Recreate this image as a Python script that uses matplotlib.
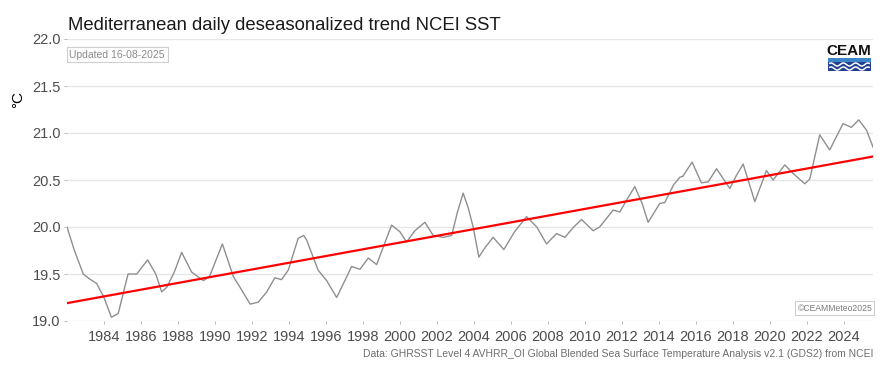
import numpy as np
import matplotlib
matplotlib.use("Agg")
import matplotlib.pyplot as plt
from matplotlib.patches import Rectangle

plt.rcParams['font.family'] = ['Liberation Sans', 'DejaVu Sans']

# deseasonalized SST
years = [1982.0, 1982.4, 1982.88, 1983.2, 1983.6, 1984.0, 1984.4, 1984.77, 1985.3, 1985.77,
         1986.36, 1986.8, 1987.12, 1987.4, 1987.8, 1988.2, 1988.74, 1989.37, 1989.7, 1990.4,
         1991.0, 1991.35, 1991.9, 1992.34, 1992.8, 1993.24, 1993.6, 1993.96, 1994.5, 1994.8,
         1994.96, 1995.58, 1996.04, 1996.58, 1997.0, 1997.39, 1997.84, 1998.29, 1998.74,
         1999.55, 2000.0, 2000.36, 2000.81, 2001.35, 2001.8, 2002.35, 2002.8, 2003.1,
         2003.42, 2003.7, 2003.96, 2004.27, 2004.6, 2005.04, 2005.62, 2006.2, 2006.85,
         2007.4, 2007.93, 2008.47, 2008.92, 2009.4, 2009.82, 2010.45, 2010.8, 2011.53,
         2011.89, 2012.3, 2012.7, 2013.1, 2013.42, 2014.05, 2014.32, 2014.8, 2015.14,
         2015.3, 2015.8, 2016.3, 2016.67, 2017.12, 2017.84, 2018.2, 2018.56, 2019.19,
         2019.82, 2020.18, 2020.81, 2021.26, 2021.89, 2022.16, 2022.7, 2023.24, 2023.96,
         2024.41, 2024.81, 2025.23, 2025.58]
sst = [20.00, 19.75, 19.50, 19.45, 19.40, 19.25, 19.04, 19.08, 19.50, 19.50,
       19.65, 19.50, 19.31, 19.36, 19.52, 19.73, 19.52, 19.43, 19.47, 19.82,
       19.47, 19.36, 19.18, 19.20, 19.31, 19.46, 19.44, 19.54, 19.88, 19.91,
       19.86, 19.54, 19.43, 19.25, 19.42, 19.58, 19.55, 19.67, 19.60,
       20.02, 19.95, 19.84, 19.96, 20.05, 19.91, 19.89, 19.91, 20.15,
       20.36, 20.20, 20.00, 19.68, 19.78, 19.89, 19.76, 19.95, 20.11,
       20.00, 19.82, 19.93, 19.89, 20.00, 20.08, 19.96, 20.00, 20.18,
       20.16, 20.30, 20.43, 20.25, 20.05, 20.25, 20.26, 20.45, 20.53,
       20.54, 20.69, 20.47, 20.48, 20.62, 20.41, 20.55, 20.67, 20.27,
       20.60, 20.50, 20.66, 20.57, 20.46, 20.51, 20.98, 20.82, 21.10,
       21.06, 21.14, 21.03, 20.85]

# linear trend end points
trend_years = [1982.0, 2025.58]
trend_sst = [19.19, 20.75]

yticks = [19.0, 19.5, 20.0, 20.5, 21.0, 21.5, 22.0]
xticks = list(range(1984, 2025, 2))

fig = plt.figure(figsize=(8.86, 3.72), dpi=100)
ax = fig.add_axes([67 / 886, 1 - 321 / 372, (873 - 67) / 886, (321 - 39) / 372])

ax.plot(years, sst, color="#8f8f8f", lw=1.0, solid_joinstyle="round")
ax.plot(trend_years, trend_sst, color="#ff0000", lw=1.6)

ax.set_xlim(1982.0, 2025.58)
ax.set_ylim(19.0, 22.0)
ax.set_yticks(yticks)
ax.set_yticklabels([f"{v:.1f}" for v in yticks])
ax.set_xticks(xticks)
ax.grid(axis="y", color="#e6e6e6", lw=1.0)
ax.set_axisbelow(True)
for s in ax.spines.values():
    s.set_visible(False)
ax.tick_params(axis="both", colors="#b0b0b0", length=2.5, width=0.6,
               labelcolor="#4d4d4d", labelsize=10.5, pad=2)
ax.tick_params(axis="x", pad=4)

fig.text(18 / 886, 1 - 99 / 372, "°C", rotation=90, fontsize=11, color="black",
         ha="center", va="center")
fig.text(68 / 886, 1 - 30 / 372, "Mediterranean daily deseasonalized trend NCEI SST",
         fontsize=13.3, color="#1a1a1a", ha="left", va="baseline")

ax.text(0.003, 0.962, "Updated 16-08-2025", transform=ax.transAxes, fontsize=7.5,
        color="#8a8a8a", ha="left", va="top",
        bbox=dict(boxstyle="square,pad=0.25", fc="white", ec="#cfcfcf", lw=0.8))
ax.text(0.999, 0.03, "©CEAMMeteo2025", transform=ax.transAxes, fontsize=6.2,
        color="#7a7a7a", ha="right", va="bottom",
        bbox=dict(boxstyle="square,pad=0.25", fc="white", ec="#cfcfcf", lw=0.8))

fig.text(873 / 886, 1 - 354 / 372,
         "Data: GHRSST Level 4 AVHRR_OI Global Blended Sea Surface Temperature Analysis v2.1 (GDS2) from NCEI",
         fontsize=7.5, color="#6e6e6e", ha="right", va="center")

# CEAM logo
fig.text(849 / 886, 1 - 51 / 372, "CEAM", fontsize=11, fontweight="bold",
         color="#111111", ha="center", va="center")
lx0, lx1 = 828 / 886, 871 / 886
fig.patches.append(Rectangle((lx0, 1 - 71 / 372), lx1 - lx0, 13 / 372,
                             transform=fig.transFigure, fc="#233f8f", ec="none"))
fig.patches.append(Rectangle((lx0, 1 - 62 / 372), lx1 - lx0, 4 / 372,
                             transform=fig.transFigure, fc="#3b86c8", ec="none"))
wx = np.linspace(lx0 + 0.002, lx1 - 0.002, 80)
for off in (64.5, 68.5):
    wy = 1 - off / 372 + 1.5 / 372 * np.sin((wx - lx0) / (lx1 - lx0) * 2 * np.pi * 3.5)
    fig.add_artist(plt.Line2D(wx, wy, transform=fig.transFigure, color="white", lw=1.1))

fig.savefig("out.png", dpi=100, facecolor="white")
